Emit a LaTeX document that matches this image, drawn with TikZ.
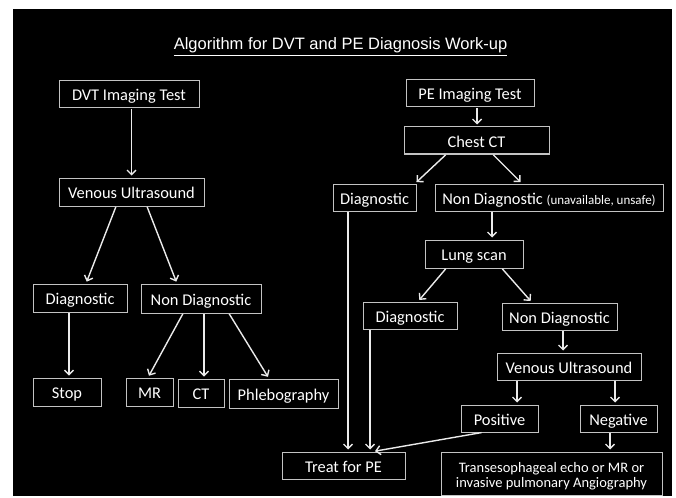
\documentclass[tikz,border=0pt]{standalone}
\usepackage{fontspec}
\setmainfont{Carlito}
\newfontfamily\titlefont{Liberation Sans}
\usetikzlibrary{arrows.meta}
\definecolor{boxc}{RGB}{195,195,195}
\definecolor{arrc}{RGB}{235,235,235}
\tikzset{
  box/.style={draw=boxc, line width=1pt, text=white, inner sep=0pt, align=center,
    font=\fontsize{16.4}{18}\selectfont, text height=16pt, text depth=3pt},
  arr/.style={draw=arrc, line width=1.4pt, -{Straight Barb[length=4.5pt,width=9pt]},
    shorten >=2pt, shorten <=0.5pt},
}
\begin{document}
\begin{tikzpicture}[x=1pt,y=-1pt]
\useasboundingbox (0,0) rectangle (676,497);
\fill[white] (0,0) rectangle (676,497);
\fill[black] (13,9) rectangle (672,496);
% title
\node[text=white, anchor=base, inner sep=0pt, font=\titlefont\fontsize{16.5}{19}\selectfont] (title) at (340.5,50)
  {\underline{Algorithm for DVT and PE Diagnosis Work-up}};
% left
\node[box, minimum width=140, minimum height=27] (dvt) at (129,94.5) {DVT Imaging Test};
\node[box, minimum width=145, minimum height=28] (vu1) at (131.5,192) {Venous Ultrasound};
\node[box, minimum width=94, minimum height=28] (diag1) at (80,298) {Diagnostic};
\node[box, minimum width=120, minimum height=29] (nd1) at (201,298.5) {Non Diagnostic};
\node[box, minimum width=68, minimum height=28] (stop) at (67,392) {Stop};
\node[box, minimum width=47, minimum height=28] (mr) at (149.5,392) {MR};
\node[box, minimum width=46, minimum height=28] (ct) at (201,393) {CT};
\node[box, minimum width=109, minimum height=29] (phleb) at (283.5,393.5) {Phlebography};
% right
\node[box, minimum width=128, minimum height=27] (pe) at (470,93.5) {PE Imaging Test};
\node[box, minimum width=145, minimum height=27] (chest) at (476.5,140.5) {Chest CT};
\node[box, minimum width=83, minimum height=27] (diag2) at (374.5,197.5) {Diagnostic};
\node[box, minimum width=228, minimum height=27] (nd2) at (549,197.5) {Non Diagnostic {\fontsize{13}{15}\selectfont (unavailable, unsafe)}};
\node[box, minimum width=98, minimum height=28] (lung) at (474,254) {Lung scan};
\node[box, minimum width=94, minimum height=27] (diag3) at (410,315.5) {Diagnostic};
\node[box, minimum width=115, minimum height=27] (nd3) at (559.5,316.5) {Non Diagnostic};
\node[box, minimum width=144, minimum height=27] (vu2) at (569,366.5) {Venous Ultrasound};
\node[box, minimum width=77, minimum height=27] (pos) at (499.5,418.5) {Positive};
\node[box, minimum width=77, minimum height=27] (neg) at (618.5,418.5) {Negative};
\node[box, minimum width=123, minimum height=27] (treat) at (343.5,465.5) {Treat for PE};
\node[box, minimum width=221, minimum height=43, font=\fontsize{14.5}{14.5}\selectfont,
  text height={}, text depth={}] (trans) at (551.5,473.5)
  {\rule{0pt}{15pt}Transesophageal echo or MR or\\invasive pulmonary Angiography\rule[-2pt]{0pt}{2pt}};
% left arrows
\draw[arr] ([xshift=2.5]dvt.south) -- (vu1.north);
\draw[arr] ([xshift=-15.5]vu1.south) -- ([xshift=6]diag1.north);
\draw[arr] ([xshift=15.5]vu1.south) -- ([xshift=-24]nd1.north);
\draw[arr] ([xshift=-11]diag1.south) -- ([xshift=2]stop.north);
\draw[arr] ([xshift=-18]nd1.south) -- ([xshift=-1.5]mr.north);
\draw[arr] ([xshift=3]nd1.south) -- ([xshift=3]ct.north);
\draw[arr] ([xshift=28]nd1.south) -- ([xshift=-14.5]phleb.north);
% right arrows
\draw[arr] ([xshift=7]pe.south) -- ([xshift=0.5]chest.north);
\draw[arr] ([xshift=-30.5]chest.south) -- ([xshift=40.5]diag2.north);
\draw[arr] ([xshift=16.5]chest.south) -- ([xshift=-27]nd2.north);
\draw[arr] ([xshift=-57]nd2.south) -- ([xshift=18]lung.north);
\draw[arr] ([xshift=-28]lung.south) -- ([xshift=8]diag3.north);
\draw[arr] ([xshift=28]lung.south) -- ([xshift=-27.5]nd3.north);
\draw[arr] ([xshift=3.5]nd3.south) -- ([xshift=-6]vu2.north);
\draw[arr] ([xshift=-52]vu2.south) -- ([xshift=17.5]pos.north);
\draw[arr] ([xshift=46]vu2.south) -- ([xshift=-3.5]neg.north);
\draw[arr] ([xshift=-8.5]neg.south) -- ([xshift=58.5]trans.north);
\draw[arr] ([xshift=-26.5]diag2.south) -- ([xshift=4.5]treat.north);
\draw[arr] ([xshift=-40]diag3.south) -- ([xshift=26.5]treat.north);
\draw[arr] ([xshift=-17.5]pos.south) -- ([xshift=29.5]treat.north);
\end{tikzpicture}
\end{document}
